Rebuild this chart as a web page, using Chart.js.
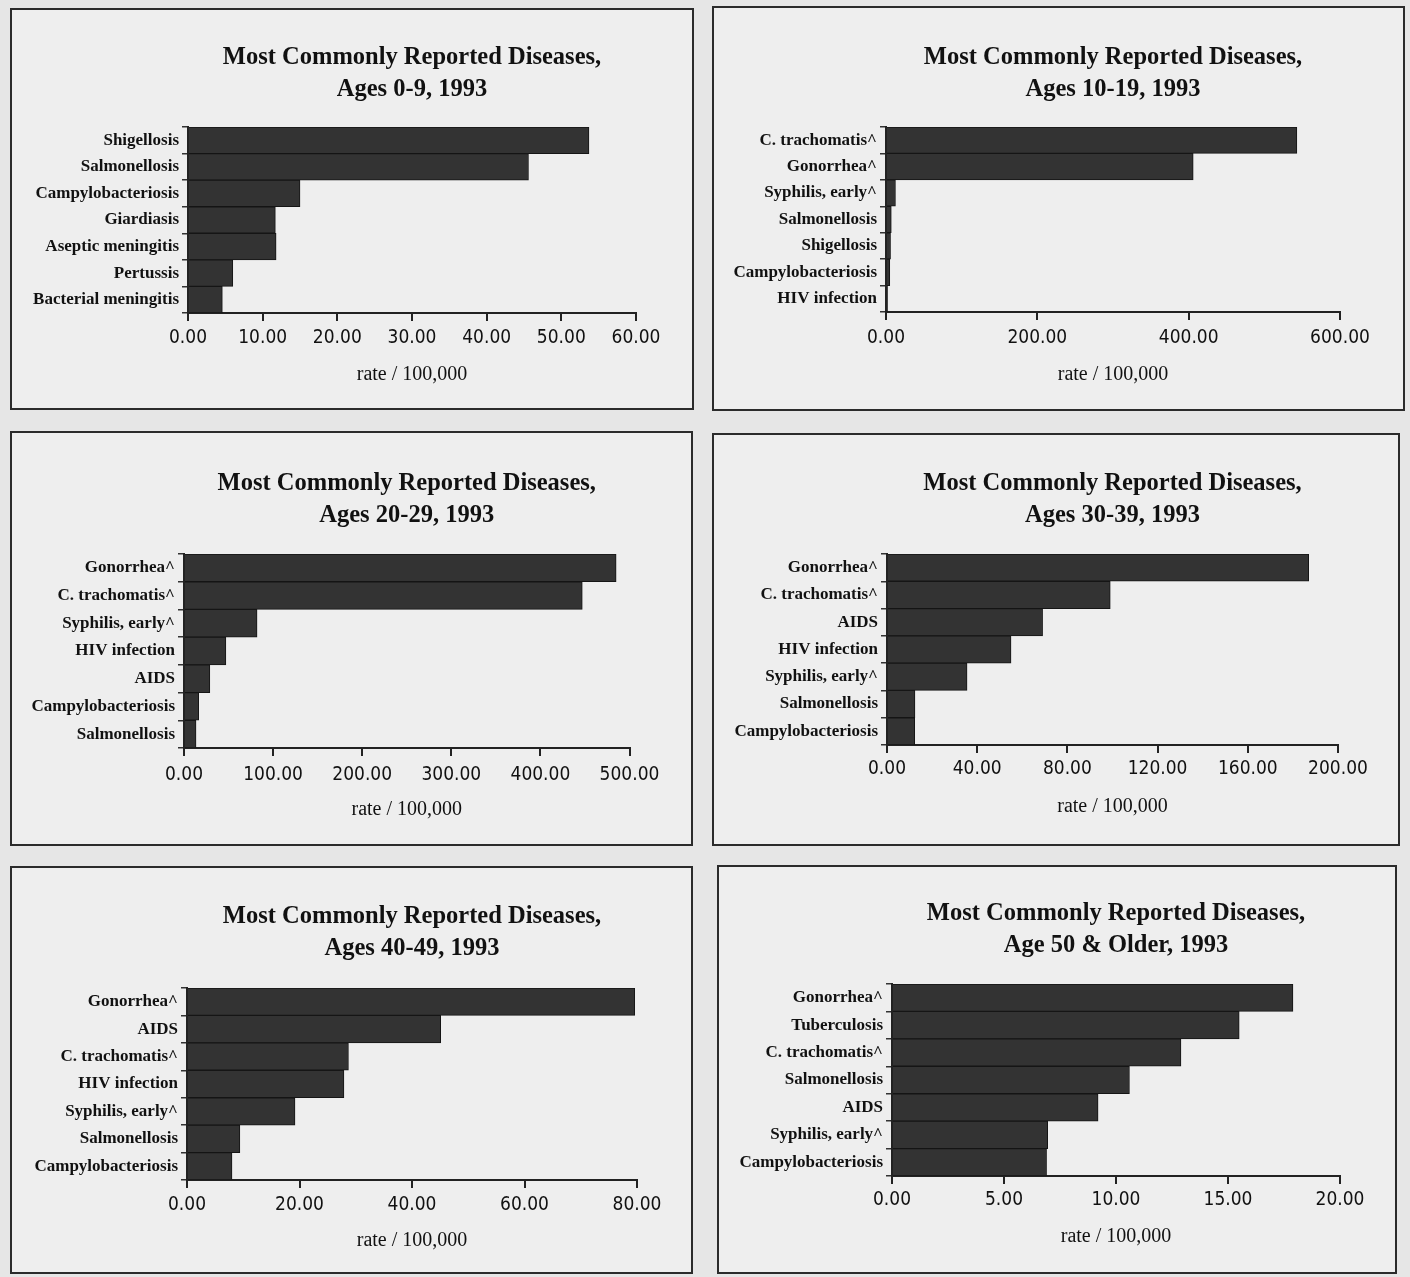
<!DOCTYPE html>
<html>
<head>
<meta charset="utf-8">
<script src="https://cdn.jsdelivr.net/npm/chart.js@4.4.1/dist/chart.umd.min.js"></script>
<style>
  html, body { margin: 0; padding: 0; }
  body { width: 1410px; height: 1277px; background: #e6e6e6; position: relative; overflow: hidden; }
  .panel { position: absolute; border: 2px solid #2b2b2b; background: #eeeeee; }
  .panel canvas { display: block; }
</style>
</head>
<body>
<script>
// data, one group per panel
const titleTop = "Most Commonly Reported Diseases,";

const ages0Title = "Ages 0-9, 1993";
const ages0Labels = ["Shigellosis", "Salmonellosis", "Campylobacteriosis", "Giardiasis", "Aseptic meningitis", "Pertussis", "Bacterial meningitis"];
const ages0Rates = [53.7, 45.6, 15.0, 11.7, 11.8, 6.0, 4.6];
const ages0Ticks = [0, 60, 10];

const ages10Title = "Ages 10-19, 1993";
const ages10Labels = ["C. trachomatis^", "Gonorrhea^", "Syphilis, early^", "Salmonellosis", "Shigellosis", "Campylobacteriosis", "HIV infection"];
const ages10Rates = [543, 406, 12.5, 7, 6, 5, 2];
const ages10Ticks = [0, 600, 200];

const ages20Title = "Ages 20-29, 1993";
const ages20Labels = ["Gonorrhea^", "C. trachomatis^", "Syphilis, early^", "HIV infection", "AIDS", "Campylobacteriosis", "Salmonellosis"];
const ages20Rates = [485, 447, 82, 47, 29, 16.5, 13.5];
const ages20Ticks = [0, 500, 100];

const ages30Title = "Ages 30-39, 1993";
const ages30Labels = ["Gonorrhea^", "C. trachomatis^", "AIDS", "HIV infection", "Syphilis, early^", "Salmonellosis", "Campylobacteriosis"];
const ages30Rates = [187, 99, 69, 55, 35.5, 12.4, 12.3];
const ages30Ticks = [0, 200, 40];

const ages40Title = "Ages 40-49, 1993";
const ages40Labels = ["Gonorrhea^", "AIDS", "C. trachomatis^", "HIV infection", "Syphilis, early^", "Salmonellosis", "Campylobacteriosis"];
const ages40Rates = [79.6, 45.1, 28.7, 27.9, 19.2, 9.4, 8.0];
const ages40Ticks = [0, 80, 20];

const ages50Title = "Age 50 & Older, 1993";
const ages50Labels = ["Gonorrhea^", "Tuberculosis", "C. trachomatis^", "Salmonellosis", "AIDS", "Syphilis, early^", "Campylobacteriosis"];
const ages50Rates = [17.9, 15.5, 12.9, 10.6, 9.2, 6.95, 6.9];
const ages50Ticks = [0, 20, 5];

const axisTitle = "rate / 100,000";

// page geometry of each framed panel (box = left, top, right, bottom)
const panels = [
  { title: ages0Title, labels: ages0Labels, values: ages0Rates, ticks: ages0Ticks,
    box: [10, 8, 694, 410], x0: 188, x1: 636, barTop: 127, axisY: 313, t1: 58, tickY: 338, xtY: 375 },
  { title: ages10Title, labels: ages10Labels, values: ages10Rates, ticks: ages10Ticks,
    box: [712, 6, 1405, 411], x0: 886, x1: 1340, barTop: 127, axisY: 312, t1: 58, tickY: 338, xtY: 375 },
  { title: ages20Title, labels: ages20Labels, values: ages20Rates, ticks: ages20Ticks,
    box: [10, 431, 693, 846], x0: 184, x1: 629.5, barTop: 554, axisY: 748, t1: 484, tickY: 775, xtY: 810 },
  { title: ages30Title, labels: ages30Labels, values: ages30Rates, ticks: ages30Ticks,
    box: [712, 433, 1400, 846], x0: 887, x1: 1338, barTop: 554, axisY: 745, t1: 484, tickY: 769, xtY: 807 },
  { title: ages40Title, labels: ages40Labels, values: ages40Rates, ticks: ages40Ticks,
    box: [10, 866, 693, 1274], x0: 187, x1: 637, barTop: 988, axisY: 1180, t1: 917, tickY: 1205, xtY: 1241 },
  { title: ages50Title, labels: ages50Labels, values: ages50Rates, ticks: ages50Ticks,
    box: [717, 865, 1397, 1274], x0: 892, x1: 1340, barTop: 984, axisY: 1176, t1: 914, tickY: 1200, xtY: 1237 },
];

const TITLE_SIZE = 24.5;
const TITLE_LINE = 32;
const TICK_SIZE = 19;
const TICK_LEN = 8;
const XTITLE_SIZE = 20;
const BORDER = 2;

function drawPanel(p) {
  const [left, top, right, bottom] = p.box;
  const div = document.createElement("div");
  div.className = "panel";
  const w = right - left - 2 * BORDER;
  const h = bottom - top - 2 * BORDER;
  div.style.left = left + "px";
  div.style.top = top + "px";
  div.style.width = w + "px";
  div.style.height = h + "px";
  const canvas = document.createElement("canvas");
  canvas.width = w;
  canvas.height = h;
  div.appendChild(canvas);
  document.body.appendChild(div);

  const ox = left + BORDER;
  const oy = top + BORDER;
  const yWidth = p.x0 - ox;
  const padRight = ox + w - p.x1;
  const chartTop = p.barTop - oy;
  const chartBottom = p.axisY - oy;
  const titlePadTop = p.t1 - oy - TITLE_LINE / 2;
  const titlePadBottom = chartTop - titlePadTop - 2 * TITLE_LINE;
  const xHeight = h - chartBottom;
  const tickPad = p.tickY - oy - chartBottom - TICK_LEN - (TICK_SIZE * 1.2) / 2;
  const xTitlePad = h - (p.xtY - oy) - (XTITLE_SIZE * 1.2) / 2;

  const [min, max, step] = p.ticks;

  new Chart(canvas, {
    type: "bar",
    data: {
      labels: p.labels,
      datasets: [
        {
          data: p.values,
          backgroundColor: "#333333",
          borderColor: "#151515",
          borderWidth: 1,
          categoryPercentage: 1,
          barPercentage: 1,
        },
      ],
    },
    options: {
      indexAxis: "y",
      responsive: false,
      animation: false,
      layout: { padding: { left: 0, right: padRight, top: 0, bottom: 0 } },
      plugins: {
        legend: { display: false },
        tooltip: { enabled: false },
        title: {
          display: true,
          fullSize: false,
          text: [titleTop, p.title],
          color: "#111",
          font: { family: "'Liberation Serif', 'Times New Roman', serif", size: TITLE_SIZE, weight: "bold", lineHeight: TITLE_LINE / TITLE_SIZE },
          padding: { top: titlePadTop, bottom: titlePadBottom },
        },
      },
      scales: {
        x: {
          min: min,
          max: max,
          afterFit: (scale) => { scale.height = xHeight; },
          grid: { drawOnChartArea: false, drawTicks: true, tickLength: TICK_LEN, color: "#222", lineWidth: 2 },
          border: { display: true, color: "#222", width: 2 },
          ticks: {
            stepSize: step,
            padding: tickPad,
            color: "#111",
            maxRotation: 0,
            font: { family: "'Liberation Sans Narrow', 'DejaVu Sans Condensed', 'Liberation Sans', sans-serif", size: TICK_SIZE },
            callback: (value) => Number(value).toFixed(2),
          },
          title: {
            display: true,
            text: axisTitle,
            color: "#111",
            font: { family: "'Liberation Serif', 'Times New Roman', serif", size: XTITLE_SIZE },
            padding: { top: 0, bottom: xTitlePad },
          },
        },
        y: {
          afterFit: (scale) => { scale.width = yWidth; },
          grid: { drawOnChartArea: false, drawTicks: true, tickLength: 6, color: "#333", lineWidth: 1.5 },
          border: { display: true, color: "#222", width: 2 },
          ticks: {
            padding: 3,
            color: "#111",
            font: { family: "'Liberation Serif', 'Times New Roman', serif", size: 17, weight: "bold" },
          },
        },
      },
    },
  });
}

panels.forEach(drawPanel);
</script>
</body>
</html>
